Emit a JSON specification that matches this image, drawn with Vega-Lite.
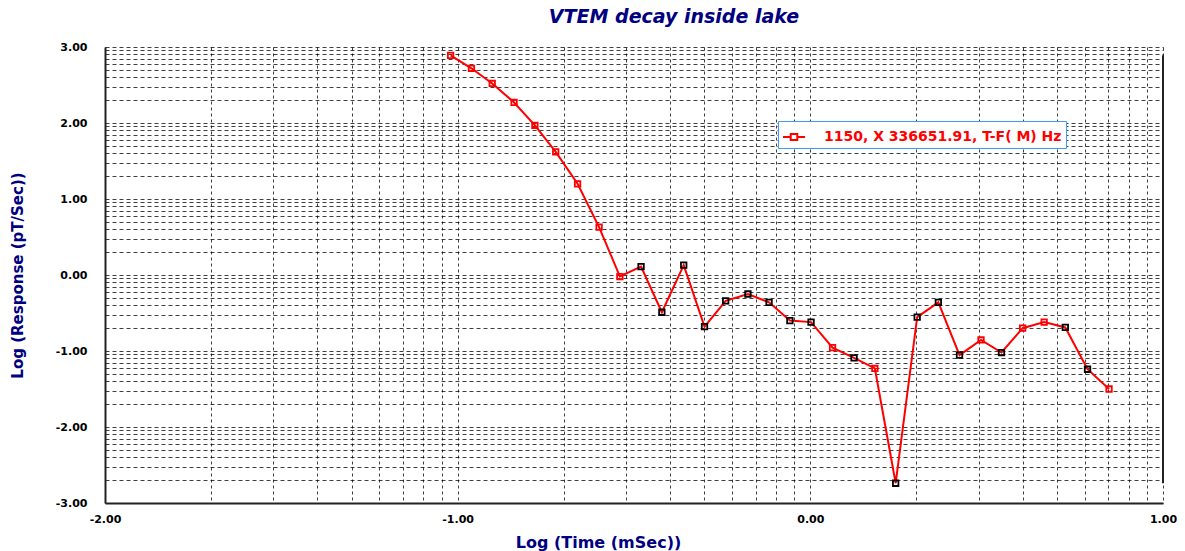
{
  "$schema": "https://vega.github.io/schema/vega-lite/v6.json",
  "width": 1058,
  "height": 456,
  "autosize": "none",
  "padding": {"left": 105, "top": 47, "right": 22, "bottom": 48},
  "background": "white",
  "title": {
    "text": "VTEM decay inside lake",
    "font": "DejaVu Sans",
    "fontSize": 19,
    "fontStyle": "italic",
    "fontWeight": "bold",
    "color": "#000080",
    "anchor": "middle",
    "dx": 40,
    "offset": 14
  },
  "data": {
    "values": [
      {"t": -1.020, "r": 2.89, "sign": "pos"},
      {"t": -0.961, "r": 2.72, "sign": "pos"},
      {"t": -0.902, "r": 2.52, "sign": "pos"},
      {"t": -0.840, "r": 2.27, "sign": "pos"},
      {"t": -0.781, "r": 1.97, "sign": "pos"},
      {"t": -0.722, "r": 1.62, "sign": "pos"},
      {"t": -0.660, "r": 1.20, "sign": "pos"},
      {"t": -0.599, "r": 0.63, "sign": "pos"},
      {"t": -0.540, "r": -0.02, "sign": "pos"},
      {"t": -0.480, "r": 0.11, "sign": "neg"},
      {"t": -0.421, "r": -0.49, "sign": "neg"},
      {"t": -0.359, "r": 0.13, "sign": "neg"},
      {"t": -0.300, "r": -0.68, "sign": "neg"},
      {"t": -0.240, "r": -0.34, "sign": "neg"},
      {"t": -0.177, "r": -0.25, "sign": "neg"},
      {"t": -0.117, "r": -0.36, "sign": "neg"},
      {"t": -0.058, "r": -0.60, "sign": "neg"},
      {"t": 0.002, "r": -0.62, "sign": "neg"},
      {"t": 0.063, "r": -0.955, "sign": "pos"},
      {"t": 0.124, "r": -1.09, "sign": "neg"},
      {"t": 0.183, "r": -1.23, "sign": "pos"},
      {"t": 0.242, "r": -2.74, "sign": "neg"},
      {"t": 0.303, "r": -0.555, "sign": "neg"},
      {"t": 0.363, "r": -0.36, "sign": "neg"},
      {"t": 0.423, "r": -1.055, "sign": "neg"},
      {"t": 0.484, "r": -0.855, "sign": "pos"},
      {"t": 0.542, "r": -1.02, "sign": "neg"},
      {"t": 0.602, "r": -0.70, "sign": "pos"},
      {"t": 0.663, "r": -0.62, "sign": "pos"},
      {"t": 0.723, "r": -0.69, "sign": "neg"},
      {"t": 0.786, "r": -1.24, "sign": "neg"},
      {"t": 0.847, "r": -1.50, "sign": "pos"}
    ]
  },
  "encoding": {
    "x": {
      "field": "t",
      "type": "quantitative",
      "scale": {"domain": [-2, 1], "nice": false, "zero": false},
      "axis": {
        "title": "Log (Time (mSec))",
        "values": [-2, -1.69897, -1.52288, -1.39794, -1.30103, -1.22185, -1.15490, -1.09691, -1.04576,
                   -1, -0.69897, -0.52288, -0.39794, -0.30103, -0.22185, -0.15490, -0.09691, -0.04576,
                   0, 0.30103, 0.47712, 0.60206, 0.69897, 0.77815, 0.84510, 0.90309, 0.95424, 1],
        "labelExpr": "abs(datum.value - round(datum.value)) < 0.001 ? (datum.value < -0.001 ? '-' : '') + format(abs(datum.value), '.2f') : ''",
        "gridDash": [3, 3],
        "labelPadding": 10,
        "titleX": 493,
        "titleY": 39,
        "titleBaseline": "middle",
        "titleAlign": "center",
        "titleFontSize": 16
      }
    },
    "y": {
      "field": "r",
      "type": "quantitative",
      "scale": {"domain": [-3, 3], "nice": false, "zero": false},
      "axis": {
        "title": "Log (Response (pT/Sec))",
        "values": [-3, -2.69897, -2.52288, -2.39794, -2.30103, -2.22185, -2.15490, -2.09691, -2.04576,
                   -2, -1.69897, -1.52288, -1.39794, -1.30103, -1.22185, -1.15490, -1.09691, -1.04576,
                   -1, -0.69897, -0.52288, -0.39794, -0.30103, -0.22185, -0.15490, -0.09691, -0.04576,
                   0, 0.30103, 0.47712, 0.60206, 0.69897, 0.77815, 0.84510, 0.90309, 0.95424,
                   1, 1.30103, 1.47712, 1.60206, 1.69897, 1.77815, 1.84510, 1.90309, 1.95424,
                   2, 2.30103, 2.47712, 2.60206, 2.69897, 2.77815, 2.84510, 2.90309, 2.95424, 3],
        "labelExpr": "abs(datum.value - round(datum.value)) < 0.001 ? (datum.value < -0.001 ? '-' : '') + format(abs(datum.value), '.2f') : ''",
        "gridDash": [4, 3],
        "labelPadding": 18,
        "titleX": -88,
        "titleY": 228,
        "titleAngle": -90,
        "titleBaseline": "middle",
        "titleAlign": "center",
        "titleFontSize": 15
      }
    }
  },
  "layer": [
    {
      "mark": {"type": "line", "color": "#ff0000", "strokeWidth": 2},
      "encoding": {
        "color": {
          "datum": "1150, X 336651.91, T-F( M) Hz",
          "type": "nominal",
          "scale": {"range": ["#ff0000"]},
          "legend": {
            "title": null,
            "orient": "none",
            "legendX": 673,
            "legendY": 74,
            "padding": 4,
            "fillColor": "white",
            "strokeColor": "#3d9cf5",
            "symbolType": "M-1,0H-0.3M0.3,0H1M-0.3,-0.27H0.3V0.27H-0.3Z",
            "symbolSize": 484,
            "symbolStrokeWidth": 2,
            "symbolFillColor": "transparent",
            "labelFont": "DejaVu Sans",
            "labelFontWeight": "bold",
            "labelFontSize": 14,
            "labelColor": "#ff0000",
            "labelOffset": 18,
            "labelLimit": 400
          }
        }
      }
    },
    {
      "mark": {"type": "point", "shape": "square", "filled": false, "size": 30, "strokeWidth": 1.8, "opacity": 1},
      "encoding": {
        "stroke": {
          "field": "sign",
          "type": "nominal",
          "scale": {"domain": ["pos", "neg"], "range": ["#ff0000", "#000000"]},
          "legend": null
        }
      }
    },
    {
      "mark": {"type": "rule", "color": "#222222", "strokeWidth": 2},
      "encoding": {"x": {"datum": 1}}
    }
  ],
  "config": {
    "view": {"stroke": null},
    "axis": {
      "grid": true,
      "gridColor": "#000000",
      "gridOpacity": 0.75,
      "gridWidth": 1,
      "ticks": false,
      "domainColor": "#222222",
      "domainWidth": 2,
      "labelFont": "DejaVu Sans",
      "labelFontWeight": "bold",
      "labelFontSize": 11,
      "labelColor": "#000000",
      "labelOverlap": false,
      "labelFlush": false,
      "labelBound": false,
      "titleFont": "DejaVu Sans",
      "titleFontWeight": "bold",
      "titleColor": "#000080"
    }
  }
}
